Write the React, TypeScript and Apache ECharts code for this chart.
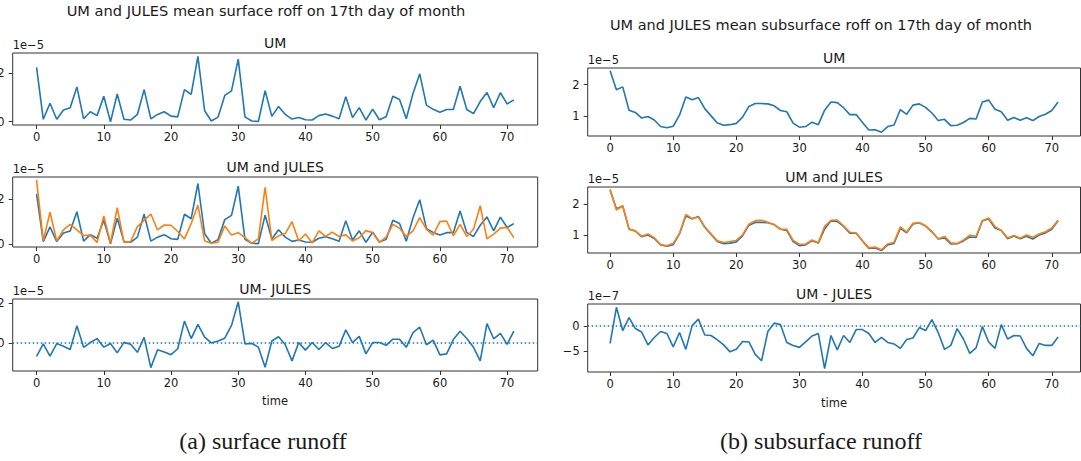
import React, { useEffect, useRef } from "react";
import * as echarts from "echarts";

// time index (days sampled on the 17th of each month)
const TIME = Array.from({ length: 72 }, (_, i) => i);
const X_TICKS = [0, 10, 20, 30, 40, 50, 60, 70];

// surface runoff, units of 1e-5
const umSurface = [
  2.23, 0.1, 0.76, 0.1, 0.48, 0.57, 1.43, 0.12, 0.41, 0.25, 1.05, 0.0, 1.14, 0.1, 0.07, 0.3,
  1.32, 0.12, 0.3, 0.41, 0.23, 0.2, 1.32, 1.12, 2.69, 0.45, 0.03, 0.19, 1.08, 1.27, 2.57, 0.2,
  0.03, 0.01, 1.28, 0.22, 0.63, 0.3, 0.11, 0.17, 0.08, 0.07, 0.25, 0.32, 0.23, 0.12, 1.03, 0.17,
  0.58, 0.07, 0.52, 0.08, 0.2, 1.05, 0.91, 0.12, 1.16, 1.97, 0.68, 0.51, 0.39, 0.5, 0.5, 1.46,
  0.5, 0.33, 0.83, 1.2, 0.58, 1.19, 0.73, 0.9,
];
const julesSurface = [
  2.85, 0.13, 1.41, 0.13, 0.62, 0.87, 0.62, 0.37, 0.39, 0.06, 1.24, 0.03, 1.61, 0.07, 0.1, 0.77,
  1.05, 1.33, 0.62, 0.84, 0.83, 0.55, 0.22, 0.9, 1.73, 0.13, 0.03, 0.07, 0.8, 0.39, 0.5, 0.28,
  0.03, 0.22, 2.52, 0.15, 0.36, 0.46, 0.99, 0.13, 0.44, 0.04, 0.58, 0.33, 0.52, 0.33, 0.4, 0.13,
  0.27, 0.59, 0.5, 0.07, 0.3, 0.87, 0.7, 0.33, 0.58, 1.17, 0.65, 0.39, 0.99, 1.02, 0.36, 0.87,
  0.33, 0.65, 1.7, 0.22, 0.43, 0.7, 0.73, 0.28,
];
const diffSurface = [
  -0.67, -0.05, -0.66, -0.03, -0.17, -0.33, 0.86, -0.22, 0.02, 0.22, -0.21, -0.03, -0.5, 0.03,
  -0.07, -0.47, 0.28, -1.24, -0.34, -0.45, -0.59, -0.29, 1.1, 0.22, 0.93, 0.29, 0.0, 0.1, 0.24,
  0.88, 2.07, -0.05, -0.02, -0.21, -1.22, 0.1, 0.31, -0.09, -0.9, 0.02, -0.36, 0.02, -0.33, 0.02,
  -0.28, -0.17, 0.66, 0.02, 0.33, -0.55, 0.02, 0.02, -0.12, 0.19, 0.19, -0.22, 0.52, 0.79, -0.09,
  0.14, -0.6, -0.55, 0.17, 0.59, 0.22, -0.22, -0.9, 0.97, 0.21, 0.48, -0.07, 0.59,
];

// subsurface runoff, units of 1e-5
const umSubsurface = [
  2.44, 1.84, 1.93, 1.19, 1.12, 0.94, 0.99, 0.88, 0.67, 0.63, 0.68, 1.03, 1.61, 1.52, 1.59, 1.24,
  1.01, 0.78, 0.71, 0.73, 0.77, 0.97, 1.31, 1.4, 1.4, 1.39, 1.33, 1.18, 1.14, 0.78, 0.65, 0.67,
  0.81, 0.73, 1.19, 1.45, 1.43, 1.27, 1.05, 1.05, 0.8, 0.56, 0.57, 0.49, 0.67, 0.72, 1.21, 1.06,
  1.35, 1.39, 1.28, 1.1, 0.86, 0.9, 0.7, 0.71, 0.8, 0.93, 0.91, 1.45, 1.51, 1.22, 1.14, 0.87,
  0.96, 0.87, 0.95, 0.86, 0.99, 1.06, 1.18, 1.45,
];
const julesSubsurface = [
  2.475, 1.802, 1.939, 1.173, 1.125, 0.952, 1.028, 0.903, 0.681, 0.645, 0.722, 1.043, 1.657,
  1.519, 1.576, 1.258, 1.029, 0.808, 0.748, 0.782, 0.817, 1.001, 1.342, 1.457, 1.47, 1.401, 1.324,
  1.177, 1.173, 0.819, 0.693, 0.702, 0.83, 0.745, 1.276, 1.469, 1.478, 1.289, 1.083, 1.057, 0.807,
  0.575, 0.603, 0.513, 0.703, 0.756, 1.255, 1.087, 1.374, 1.393, 1.289, 1.087, 0.873, 0.947,
  0.739, 0.715, 0.826, 0.985, 0.954, 1.451, 1.542, 1.265, 1.137, 0.896, 0.979, 0.89, 0.995, 0.92,
  1.025, 1.099, 1.219, 1.472,
];
// difference, units of 1e-7
const diffSubsurface = [
  -3.5, 3.8, -0.9, 1.7, -0.5, -1.2, -3.8, -2.3, -1.1, -1.5, -4.2, -1.3, -4.7, 0.1, 1.4, -1.8,
  -1.9, -2.8, -3.8, -5.2, -4.7, -3.1, -3.2, -5.7, -7.0, -1.1, 0.6, 0.3, -3.3, -3.9, -4.3, -3.2,
  -2.0, -1.5, -8.6, -1.9, -4.8, -1.9, -3.3, -0.7, -0.7, -1.5, -3.3, -2.3, -3.3, -3.6, -4.5, -2.7,
  -2.4, -0.3, -0.9, 1.3, -1.3, -4.7, -3.9, -0.5, -2.6, -5.5, -4.4, -0.1, -3.2, -4.5, 0.3, -2.6,
  -1.9, -2.0, -4.5, -6.0, -3.5, -3.9, -3.9, -2.2,
];

const BLUE = "#1f77b4";
const ORANGE = "#ff7f0e";
const FRAME = "#333333";
const TEXT = "#1a1a1a";
const SANS = "DejaVu Sans";

type Panel = {
  grid: { left: number; top: number; width: number; height: number };
  yMin: number;
  yMax: number;
  yTicks: number[];
  title: string;
  offset: string;
  lines: { data: number[]; color: string }[];
  zeroLine?: boolean;
};

const panels: Panel[] = [
  {
    grid: { left: 12.7, top: 53, width: 525, height: 72 },
    yMin: -0.135, yMax: 2.825, yTicks: [0, 2], title: "UM", offset: "1e\u22125",
    lines: [{ data: umSurface, color: BLUE }],
  },
  {
    grid: { left: 12.7, top: 177, width: 525, height: 70 },
    yMin: -0.14, yMax: 2.98, yTicks: [0, 2], title: "UM and JULES", offset: "1e\u22125",
    lines: [{ data: umSurface, color: BLUE }, { data: julesSurface, color: ORANGE }],
  },
  {
    grid: { left: 12.7, top: 299, width: 525, height: 72 },
    yMin: -1.41, yMax: 2.21, yTicks: [0, 2], title: "UM- JULES", offset: "1e\u22125",
    lines: [{ data: diffSurface, color: BLUE }], zeroLine: true,
  },
  {
    grid: { left: 587.7, top: 68, width: 492.8, height: 68 },
    yMin: 0.37, yMax: 2.53, yTicks: [1, 2], title: "UM", offset: "1e\u22125",
    lines: [{ data: umSubsurface, color: BLUE }],
  },
  {
    grid: { left: 587.7, top: 187, width: 492.8, height: 66 },
    yMin: 0.41, yMax: 2.545, yTicks: [1, 2], title: "UM and JULES", offset: "1e\u22125",
    lines: [{ data: umSubsurface, color: BLUE }, { data: julesSubsurface, color: ORANGE }],
  },
  {
    grid: { left: 587.7, top: 304, width: 492.8, height: 68 },
    yMin: -9.27, yMax: 4.46, yTicks: [-5, 0], title: "UM - JULES", offset: "1e\u22127",
    lines: [{ data: diffSubsurface, color: BLUE }], zeroLine: true,
  },
];

const fmt = (v: number) => (v < 0 ? "\u2212" + Math.abs(v) : String(v));

function text(x: number, y: number, s: string, size: number, family = SANS, align = "center") {
  return {
    type: "text",
    x,
    y,
    silent: true,
    style: {
      text: s,
      fill: TEXT,
      fontSize: size,
      fontFamily: family,
      align,
      verticalAlign: "middle",
      textAlign: align,
      textVerticalAlign: "middle",
    },
  };
}

function buildOption() {
  const grid: any[] = [];
  const xAxis: any[] = [];
  const yAxis: any[] = [];
  const series: any[] = [];
  const graphic: any[] = [];

  panels.forEach((p, k) => {
    grid.push({
      ...p.grid,
      show: true,
      borderColor: FRAME,
      borderWidth: 1,
      backgroundColor: "transparent",
      outerBoundsMode: "none",
      containLabel: false,
    });
    xAxis.push({
      type: "value",
      gridIndex: k,
      position: "bottom",
      min: -3.55,
      max: 74.55,
      splitLine: { show: false },
      axisLine: { show: false, onZero: false },
      axisTick: { show: true, inside: false, length: 4, customValues: X_TICKS, lineStyle: { color: FRAME, width: 1 } },
      axisLabel: { show: true, customValues: X_TICKS, margin: 6, fontSize: 11.5, fontFamily: SANS, color: TEXT },
    });
    yAxis.push({
      type: "value",
      gridIndex: k,
      position: "left",
      min: p.yMin,
      max: p.yMax,
      splitLine: { show: false },
      axisLine: { show: false, onZero: false },
      axisTick: { show: true, inside: false, length: 4, customValues: p.yTicks, lineStyle: { color: FRAME, width: 1 } },
      axisLabel: {
        show: true,
        customValues: p.yTicks,
        margin: 8,
        fontSize: 11.5,
        fontFamily: SANS,
        color: TEXT,
        formatter: (v: number) => fmt(v),
      },
    });
    p.lines.forEach((ln) => {
      series.push({
        type: "line",
        xAxisIndex: k,
        yAxisIndex: k,
        data: ln.data.map((v, i) => [TIME[i], v]),
        showSymbol: false,
        symbol: "none",
        lineStyle: { color: ln.color, width: 1.6 },
        itemStyle: { color: ln.color },
        silent: true,
        markLine: p.zeroLine
          ? {
              silent: true,
              symbol: ["none", "none"],
              label: { show: false },
              lineStyle: { color: BLUE, width: 1.5, type: [1.5, 2.5] },
              data: [{ yAxis: 0 }],
            }
          : undefined,
      });
    });
    const cx = p.grid.left + p.grid.width / 2;
    graphic.push(text(cx, p.grid.top - 10, p.title, 14));
    graphic.push(text(p.grid.left, p.grid.top - 8, p.offset, 11.5, SANS, "left"));
  });

  // suptitles, x labels and captions
  graphic.push(text(266, 10, "UM and JULES mean surface roff on 17th day of month", 14.6));
  graphic.push(text(821, 25, "UM and JULES mean subsurface roff on 17th day of month", 14.5));
  graphic.push(text(275, 401, "time", 11.5));
  graphic.push(text(834, 403, "time", 11.5));
  graphic.push(text(263, 441, "(a) surface runoff", 24, "Liberation Serif"));
  graphic.push(text(821, 441, "(b) subsurface runoff", 24, "Liberation Serif"));

  return {
    animation: false,
    backgroundColor: "#ffffff",
    grid,
    xAxis,
    yAxis,
    series,
    graphic,
  };
}

export default function App() {
  const ref = useRef<HTMLDivElement>(null);
  useEffect(() => {
    if (!ref.current) return;
    const chart = echarts.init(ref.current, null, { renderer: "svg" });
    chart.setOption(buildOption() as any);
    return () => chart.dispose();
  }, []);
  return (
    <div
      ref={ref}
      style={{ position: "absolute", left: 0, top: 0, width: 1081, height: 461, background: "#fff" }}
    />
  );
}
